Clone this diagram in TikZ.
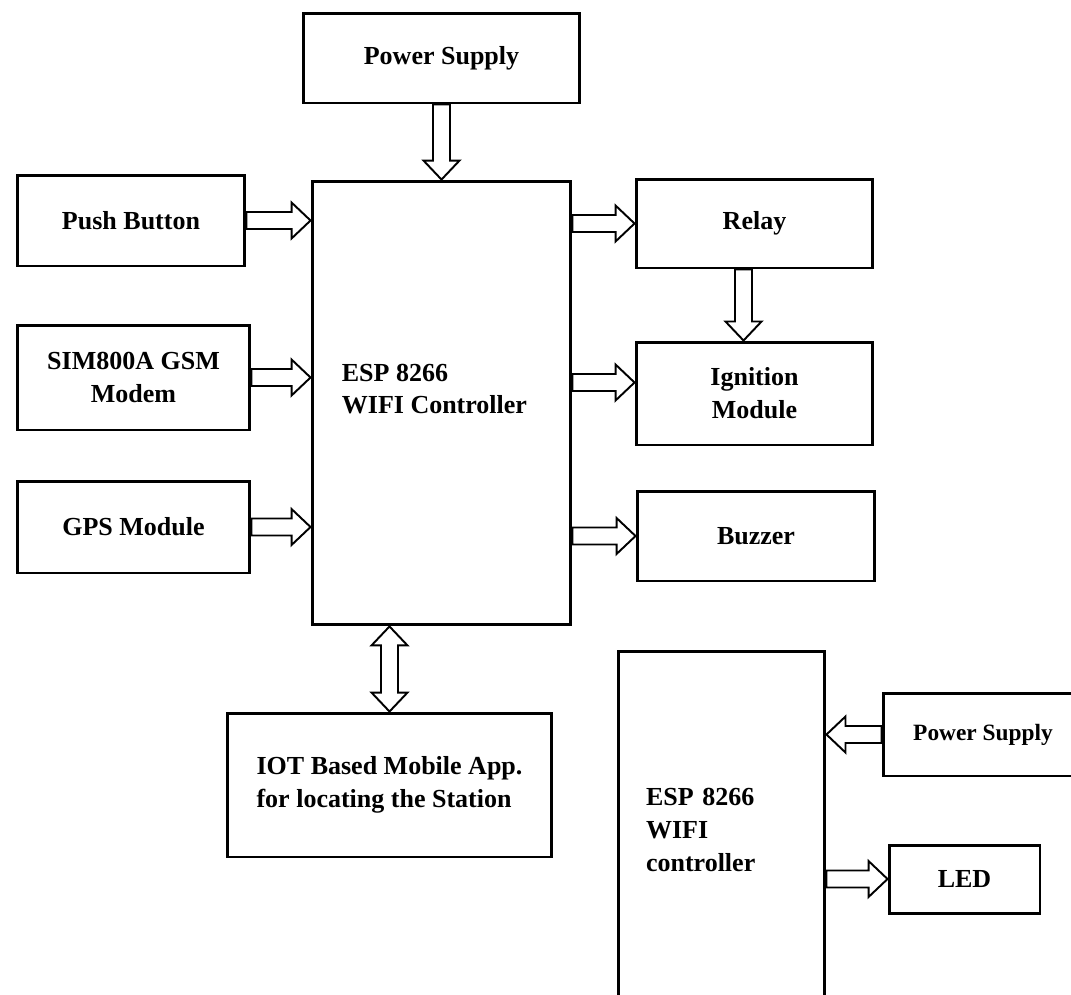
\documentclass[tikz,border=0pt]{standalone}
\usepackage{fontspec}
\setmainfont{Liberation Serif}
\usetikzlibrary{calc}

\begin{document}
\begin{tikzpicture}[x=0.02cm,y=-0.02cm,
  blk/.style={draw,line width=1.7pt,inner sep=0pt,
    font=\fontsize{14.8}{18.7}\selectfont\bfseries},
  txt/.style={inner sep=0pt,font=\fontsize{14.8}{18.7}\selectfont\bfseries},
  arr/.style={draw,fill=white,line width=1.1pt,line join=miter},
  fat/.style={to path={
    let \p1=(\tikztostart),\p2=(\tikztotarget),\p3=($(\p2)!0.38cm!(\p1)$) in
    ($(\p1)!0.17cm!90:(\p2)$) -- ($(\p3)!0.17cm!90:(\p2)$)
    -- ($(\p3)!0.36cm!90:(\p2)$) -- (\p2) -- ($(\p3)!0.36cm!-90:(\p2)$)
    -- ($(\p3)!0.17cm!-90:(\p2)$) -- ($(\p1)!0.17cm!-90:(\p2)$) -- cycle}},
  fatboth/.style={to path={
    let \p1=(\tikztostart),\p2=(\tikztotarget),\p3=($(\p2)!0.38cm!(\p1)$),
        \p4=($(\p1)!0.38cm!(\p2)$) in
    (\p1) -- ($(\p4)!0.36cm!90:(\p2)$) -- ($(\p4)!0.17cm!90:(\p2)$)
    -- ($(\p3)!0.17cm!90:(\p2)$) -- ($(\p3)!0.36cm!90:(\p2)$) -- (\p2)
    -- ($(\p3)!0.36cm!-90:(\p2)$) -- ($(\p3)!0.17cm!-90:(\p2)$)
    -- ($(\p4)!0.17cm!-90:(\p2)$) -- ($(\p4)!0.36cm!-90:(\p2)$) -- cycle}}]
  \useasboundingbox (0,0) rectangle (1071,994);
  \clip (0,0) rectangle (1071,994);

  \node[blk,minimum width=5.54cm,minimum height=1.8cm] (ps1) at (441.5,58) {Power Supply};
  \node[blk,minimum width=4.56cm,minimum height=1.82cm] (pb) at (131,220.5) {Push Button};
  \node[blk,minimum width=4.66cm,minimum height=2.1cm,align=center] (sim) at (133.5,377.5) {SIM800A GSM\\Modem};
  \node[blk,minimum width=4.66cm,minimum height=1.84cm] (gps) at (133.5,527) {GPS Module};
  \node[blk,minimum width=5.18cm,minimum height=8.88cm] (esp) at (441.5,403) {};
  \node[txt,anchor=west,align=left] (esptxt) at ([xshift=0.62cm,yshift=0.28cm]esp.west) {ESP 8266\\WIFI Controller};
  \node[blk,minimum width=4.74cm,minimum height=1.78cm] (relay) at (754.5,223.5) {Relay};
  \node[blk,minimum width=4.74cm,minimum height=2.06cm,align=center] (ign) at (754.5,393.5) {Ignition\\Module};
  \node[blk,minimum width=4.76cm,minimum height=1.8cm] (buz) at (756,536) {Buzzer};
  \node[blk,minimum width=6.5cm,minimum height=2.88cm,align=left] (iot) at (389.5,785) {IOT Based Mobile App.\\for locating the Station};
  \node[blk,minimum width=4.14cm,minimum height=7.16cm,text width=3.02cm,align=left] (esp2) at (721.5,830) {ESP 8266\\WIFI\\controller};
  \node[blk,minimum width=4cm,minimum height=1.66cm,font=\fontsize{13.3}{16}\selectfont\bfseries] (ps2) at (983,734.5) {Power Supply};
  \node[blk,minimum width=3.02cm,minimum height=1.36cm] (led) at (964.5,879) {LED};

  \coordinate (ignin) at ([yshift=0.22cm]ign.west);
  \coordinate (rl) at ([xshift=-0.22cm]relay.south);
  \path[arr] (ps1.south) to[fat] (esp.north);
  \path[arr] (pb.east) to[fat] (pb.east -| esp.west);
  \path[arr] (sim.east) to[fat] (sim.east -| esp.west);
  \path[arr] (gps.east) to[fat] (gps.east -| esp.west);
  \path[arr] (relay.west -| esp.east) to[fat] (relay.west);
  \path[arr] (ignin -| esp.east) to[fat] (ignin);
  \path[arr] (buz.west -| esp.east) to[fat] (buz.west);
  \path[arr] (rl) to[fat] (rl |- ign.north);
  \path[arr] (esp.south -| iot.north) to[fatboth] (iot.north);
  \path[arr] (ps2.west) to[fat] (ps2.west -| esp2.east);
  \path[arr] (esp2.east |- led.west) to[fat] (led.west);
\end{tikzpicture}
\end{document}
